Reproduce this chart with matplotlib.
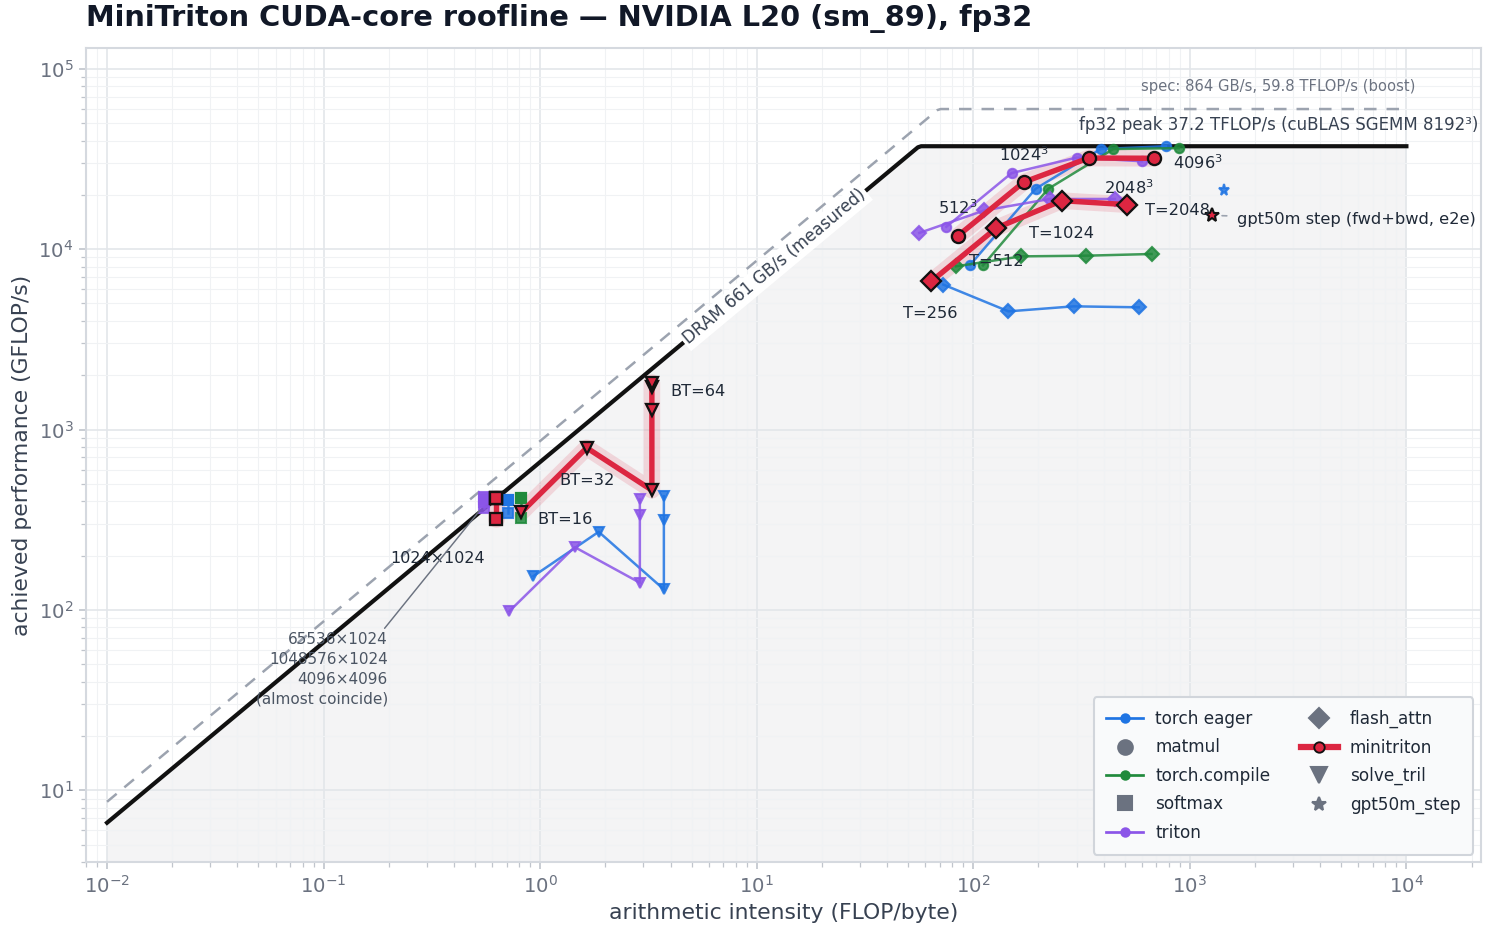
import numpy as np
import matplotlib
matplotlib.use("Agg")
import matplotlib.pyplot as plt
from matplotlib.lines import Line2D

plt.rcParams['font.family'] = ['DejaVu Sans']

# ---------------- data ----------------
BW_MEAS, PEAK_MEAS = 661.0, 37200.0      # GB/s, GFLOP/s
BW_SPEC, PEAK_SPEC = 864.0, 59800.0

backends = ['torch eager', 'torch.compile', 'triton', 'minitriton']
# small horizontal dodge per backend (multiplicative in AI)
dodge = {'torch eager': 1.136, 'torch.compile': 1.30, 'triton': 0.88, 'minitriton': 1.0}

matmul_ai = [85.3, 170.7, 341.3, 682.7]
matmul_perf = {
    'torch eager':   [8200, 21600, 35900, 37200],
    'torch.compile': [8130, 21600, 35900, 36300],
    'triton':        [13300, 26400, 32200, 30700],
    'minitriton':    [11900, 23500, 32000, 31900],
}

softmax_ai = [0.625, 0.625, 0.625, 0.625]
softmax_perf = {
    'torch eager':   [345, 409, 409, 409],
    'torch.compile': [324, 418, 418, 418],
    'triton':        [368, 425, 410, 395],
    'minitriton':    [321, 418, 418, 418],
}

flash_ai = [64, 128, 256, 512]
flash_perf = {
    'torch eager':   [6360, 4520, 4820, 4760],
    'torch.compile': [8030, 9120, 9200, 9400],
    'triton':        [12300, 16400, 18970, 18970],
    'minitriton':    [6630, 13110, 18570, 17650],
}

tril_ai = {
    'torch eager': [0.82, 1.64, 3.28, 3.28, 3.28],
    'triton':      [0.82, 1.64, 3.28, 3.28, 3.28],
    'minitriton':  [0.82, 1.64, 3.28, 3.28, 3.28, 3.28],
}
tril_perf = {
    'torch eager': [154, 271, 130, 317, 427],
    'triton':      [98.5, 223, 141.5, 338, 410],
    'minitriton':  [348, 792, 461, 1290, 1730, 1820],
}

gpt_ai = 1261
gpt_perf = {'torch eager': 21170, 'minitriton': 15390}

matmul_labels = ['512$^3$', '1024$^3$', '2048$^3$', '4096$^3$']
matmul_label_pos = [(84.5, 16980), (170.6, 33400), (526, 21900), (1084, 30150)]
flash_labels = ['T=256', 'T=512', 'T=1024', 'T=2048']
flash_label_pos = [(63.5, 4400), (128, 8530), (255, 12190), (875, 16340)]
tril_labels = ['BT=16', 'BT=32', 'BT=64']
tril_label_pos = [(1.31, 317), (1.64, 522), (5.33, 1625)]

# ---------------- style ----------------
colors = {'torch eager': '#1f74e3', 'torch.compile': '#208a3c',
          'triton': '#8b55e8', 'minitriton': '#dc2641'}
markers = {'matmul': 'o', 'softmax': 's', 'flash_attn': 'D',
           'solve_tril': 'v', 'gpt50m_step': '*'}
ms_other = {'o': 4.5, 's': 5.0, 'D': 4.8, 'v': 5.0, '*': 5.5}
ms_mini = {'o': 6.3, 's': 5.8, 'D': 7.0, 'v': 6.2, '*': 7.0}
GRAY_TXT = '#6b7280'
DARK_TXT = '#1f2937'
FS = 7.8

fig = plt.figure(figsize=(1494 / 150, 927 / 150), dpi=150)
ax = fig.add_axes([0.0576, 0.070, 0.9334, 0.878])
ax.set_xscale('log')
ax.set_yscale('log')
ax.set_xlim(8e-3, 2.2e4)
ax.set_ylim(4, 1.3e5)
ax.set_axisbelow(True)
ax.grid(True, which='major', color='#e3e6ea', lw=0.8, zorder=0.5)
ax.grid(True, which='minor', color='#f0f2f4', lw=0.5, zorder=0.5)
for s in ax.spines.values():
    s.set_color('#d5d9df')
    s.set_linewidth(1.0)
ax.tick_params(which='both', colors='#c0c5cc', labelcolor=GRAY_TXT,
               labelsize=9.5, pad=2.5)
ax.tick_params(which='major', length=3.5)
ax.tick_params(which='minor', length=2.2)

# rooflines
xr = np.logspace(-2, 4, 400)
roof = np.minimum(BW_MEAS * xr, PEAK_MEAS)
spec = np.minimum(BW_SPEC * xr, PEAK_SPEC)
ax.fill_between(xr, 1e-3, roof, color='#f4f4f5', zorder=0.3, lw=0)
ax.plot(xr, spec, color='#9ca3af', lw=1.2, ls=(0, (5, 4)), zorder=2)
ax.plot(xr, roof, color='#111111', lw=2.0, zorder=2.2)

# DRAM label rotated along the line
p1 = ax.transData.transform((1, BW_MEAS))
p2 = ax.transData.transform((10, BW_MEAS * 10))
ang = np.degrees(np.arctan2(p2[1] - p1[1], p2[0] - p1[0]))
ax.text(12.1, BW_MEAS * 12.1, 'DRAM 661 GB/s (measured)', rotation=ang,
        rotation_mode='anchor', ha='center', va='center', fontsize=8,
        color='#374151', zorder=3,
        bbox=dict(boxstyle='square,pad=0.15', fc='white', ec='none'))
ax.text(2.15e4, 4.85e4, 'fp32 peak 37.2 TFLOP/s (cuBLAS SGEMM 8192³)',
        ha='right', va='center', fontsize=8, color='#374151', zorder=3)
ax.text(1.1e4, 7.95e4, 'spec: 864 GB/s, 59.8 TFLOP/s (boost)',
        ha='right', va='center', fontsize=7.1, color=GRAY_TXT, zorder=3)


def draw(xs, ys, backend, mk):
    c = colors[backend]
    xs = np.asarray(xs, float) * dodge[backend]
    ys = np.asarray(ys, float)
    if backend == 'minitriton':
        ax.plot(xs, ys, color=c, lw=8, alpha=0.15, solid_capstyle='round',
                solid_joinstyle='round', zorder=4)
        ax.plot(xs, ys, color=c, lw=2.6, marker=mk, ms=ms_mini[mk], mfc=c,
                mec='#111111', mew=1.1, zorder=6)
    else:
        ax.plot(xs, ys, color=c, lw=1.2, marker=mk, ms=ms_other[mk], mfc=c,
                mec=c, alpha=0.85, zorder=5)


for b in backends:
    draw(matmul_ai, matmul_perf[b], b, markers['matmul'])
    draw(softmax_ai, softmax_perf[b], b, markers['softmax'])
    draw(flash_ai, flash_perf[b], b, markers['flash_attn'])
    if b in tril_ai:
        draw(tril_ai[b], tril_perf[b], b, markers['solve_tril'])
    if b in gpt_perf:
        c = colors[b]
        if b == 'minitriton':
            ax.plot([gpt_ai * dodge[b]], [gpt_perf[b]], ls='none', marker='*',
                    ms=ms_mini['*'], mfc=c, mec='#111111', mew=1.0, zorder=6)
        else:
            ax.plot([gpt_ai * dodge[b]], [gpt_perf[b]], ls='none', marker='*',
                    ms=ms_other['*'], mfc=c, mec=c, alpha=0.85, zorder=5)

# labels
for t, (x, y) in zip(matmul_labels, matmul_label_pos):
    ax.text(x, y, t, ha='center', va='center', fontsize=FS, color=DARK_TXT, zorder=7)
for t, (x, y) in zip(flash_labels, flash_label_pos):
    ax.text(x, y, t, ha='center', va='center', fontsize=FS, color=DARK_TXT, zorder=7)
for t, (x, y) in zip(tril_labels, tril_label_pos):
    ax.text(x, y, t, ha='center', va='center', fontsize=FS, color=DARK_TXT, zorder=7)

ax.annotate('gpt50m step (fwd+bwd, e2e)', xy=(gpt_ai, gpt_perf['minitriton']),
            xytext=(1655, 14560), ha='left', va='center', fontsize=FS,
            color=DARK_TXT, zorder=7,
            arrowprops=dict(arrowstyle='-', color='#9ca3af', lw=0.8,
                            shrinkA=3, shrinkB=5))
ax.text(0.337, 193, '1024×1024', ha='center', va='center', fontsize=7.7,
        color=DARK_TXT, zorder=7)
ax.annotate('65536×1024\n1048576×1024\n4096×4096\n(almost coincide)',
            xy=(0.54, 370), xytext=(0.198, 75), ha='right', va='top',
            fontsize=7.3, color='#4b5563', linespacing=1.38, zorder=7,
            arrowprops=dict(arrowstyle='-', color='#6b7280', lw=0.7,
                            relpos=(0.95, 1.0), shrinkA=0, shrinkB=2))

ax.set_xlabel('arithmetic intensity (FLOP/byte)', fontsize=10.5,
              color='#374151', labelpad=3)
ax.set_ylabel('achieved performance (GFLOP/s)', fontsize=10.5,
              color='#374151', labelpad=3)
ax.set_title('MiniTriton CUDA-core roofline — NVIDIA L20 (sm_89), fp32',
             loc='left', fontsize=13.85, fontweight='bold', color='#111827', pad=10.5)

# legend
G = '#6b7280'
handles = [
    Line2D([], [], color=colors['torch eager'], marker='o', ms=4, lw=1.3),
    Line2D([], [], ls='none', marker='o', ms=7, mfc=G, mec=G),
    Line2D([], [], color=colors['torch.compile'], marker='o', ms=4, lw=1.3),
    Line2D([], [], ls='none', marker='s', ms=7, mfc=G, mec=G),
    Line2D([], [], color=colors['triton'], marker='o', ms=4, lw=1.3),
    Line2D([], [], ls='none', marker='D', ms=7, mfc=G, mec=G),
    Line2D([], [], color=colors['minitriton'], marker='o', ms=5, lw=3,
           mfc=colors['minitriton'], mec='#111111', mew=0.9),
    Line2D([], [], ls='none', marker='v', ms=8, mfc=G, mec=G),
    Line2D([], [], ls='none', marker='*', ms=7, mfc=G, mec=G),
]
labels = ['torch eager', 'matmul', 'torch.compile', 'softmax', 'triton',
          'flash_attn', 'minitriton', 'solve_tril', 'gpt50m_step']
leg = ax.legend(handles, labels, loc='lower right', ncol=2, fontsize=8.1,
                frameon=True, fancybox=True, framealpha=1.0,
                facecolor='#f9fafb', edgecolor='#d1d5db',
                handlelength=2.2, handletextpad=0.7, columnspacing=1.8,
                labelspacing=0.62, borderpad=0.75, borderaxespad=0.45)
for t in leg.get_texts():
    t.set_color('#1f2937')

fig.savefig('out.png', dpi=150)
